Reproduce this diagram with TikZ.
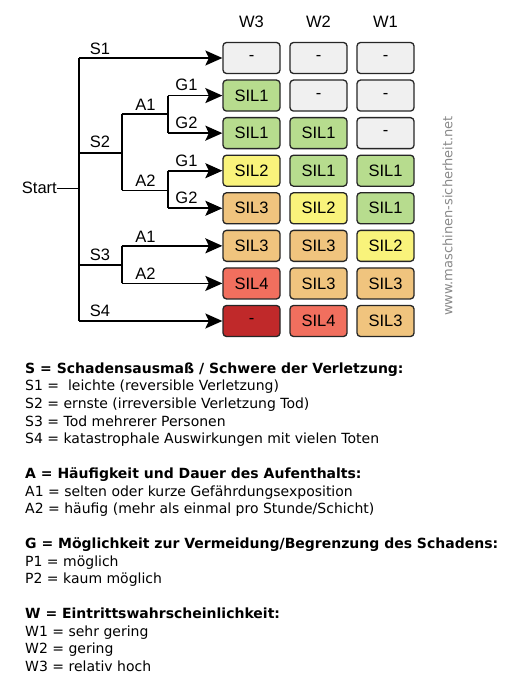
\documentclass[tikz,border=0pt]{standalone}
\usepackage{fontspec}
\setmainfont{Liberation Sans}
\newfontfamily\legfont{DejaVu Sans}
\usetikzlibrary{arrows.meta}
\definecolor{cgray}{HTML}{F0F0F0}
\definecolor{cgreen}{HTML}{B7DC8E}
\definecolor{cyellow}{HTML}{F9F37B}
\definecolor{corange}{HTML}{F0C47E}
\definecolor{cred}{HTML}{F16F5E}
\definecolor{cdred}{HTML}{C0292A}
\definecolor{wmgray}{HTML}{8A8A8A}
\tikzset{
  cell/.style={draw=black!85, line width=1.3pt, rounded corners=3.5pt, minimum width=57pt, minimum height=31pt, inner sep=0pt, font=\fontsize{16.5}{19}\selectfont},
  tree/.style={line width=1.6pt, draw=black},
  arr/.style={tree, -{Stealth[length=17pt 0, width=15pt 0, inset=3.5pt 0]}},
  lab/.style={anchor=base, inner sep=0pt, font=\fontsize{16.5}{19}\selectfont},
  hdr/.style={inner sep=0pt, font=\fontsize{16.5}{19}\selectfont},
  leg/.style={anchor=base west, inner sep=0pt, font=\legfont\fontsize{14}{16}\selectfont},
  legb/.style={leg, font=\legfont\bfseries\fontsize{14}{16}\selectfont}
}
\begin{document}
\begin{tikzpicture}[x=1pt, y=-1pt]
\useasboundingbox[fill=white] (0,0) rectangle (504,685);
% headers
\node[hdr] (h3) at (251.5,22) {W3};
\node[hdr] (h2) at (318.5,22) {W2};
\node[hdr] (h1) at (385.5,22) {W1};
% cells
\foreach \r/\y/\ca/\ta/\cb/\tb/\cc/\tc in {
  1/58/cgray/-/cgray/-/cgray/-,
  2/95.57/cgreen/SIL1/cgray/-/cgray/-,
  3/133.14/cgreen/SIL1/cgreen/SIL1/cgray/-,
  4/170.71/cyellow/SIL2/cgreen/SIL1/cgreen/SIL1,
  5/208.28/corange/SIL3/cyellow/SIL2/cgreen/SIL1,
  6/245.85/corange/SIL3/corange/SIL3/cyellow/SIL2,
  7/283.42/cred/SIL4/corange/SIL3/corange/SIL3,
  8/321/cdred/-/cred/SIL4/corange/SIL3}{
  \node[cell, fill=\ca] (b\r a) at (251.5,\y) {\ta};
  \node[cell, fill=\cb] (b\r b) at (318.5,\y) {\tb};
  \node[cell, fill=\cc] (b\r c) at (385.5,\y) {\tc};
}
% watermark
\node[rotate=90, text=wmgray, inner sep=0pt, font=\legfont\fontsize{13}{15}\selectfont] (wm) at (447.5,216) {www.maschinen-sicherheit.net};
% tree
\node[anchor=east, inner sep=0pt, font=\fontsize{16.5}{19}\selectfont] (start) at (57,188.3) {Start};
\coordinate (tr) at (79,188.3);
\coordinate (t1) at (79,58);
\coordinate (t8) at (79,321);
\coordinate (s2) at (79,152.7);
\coordinate (s3) at (79,264.7);
\coordinate (a2s) at (121.7,152.7);
\coordinate (a2t) at (121.7,113.7);
\coordinate (a2b) at (121.7,190.3);
\coordinate (a3t) at (121.7,245.85);
\coordinate (a3m) at (121.7,264.7);
\coordinate (a3b) at (121.7,283.42);
\coordinate (g1m) at (167.7,113.7);
\coordinate (g1t) at (167.7,95.57);
\coordinate (g1b) at (167.7,133.14);
\coordinate (g2m) at (167.7,190.3);
\coordinate (g2t) at (167.7,170.71);
\coordinate (g2b) at (167.7,208.28);
\draw[tree] (start.east) -- (tr);
\draw[tree] (t1) -- (t8);
\draw[tree] (s2) -- (a2s);
\draw[tree] (a2t) -- (a2b);
\draw[tree] (a2t) -- (g1m);
\draw[tree] (a2b) -- (g2m);
\draw[tree] (g1t) -- (g1b);
\draw[tree] (g2t) -- (g2b);
\draw[tree] (s3) -- (a3m);
\draw[tree] (a3t) -- (a3b);
\draw[arr] (t1) -- (b1a.west);
\draw[arr] (g1t) -- (b2a.west);
\draw[arr] (g1b) -- (b3a.west);
\draw[arr] (g2t) -- (b4a.west);
\draw[arr] (g2b) -- (b5a.west);
\draw[arr] (a3t) -- (b6a.west);
\draw[arr] (a3b) -- (b7a.west);
\draw[arr] (t8) -- (b8a.west);
% labels
\node[lab] (ls1) at (100,54.5) {S1};
\node[lab] (ls2) at (100,147.5) {S2};
\node[lab] (ls3) at (100,260) {S3};
\node[lab] (ls4) at (100,316.5) {S4};
\node[lab] (la1) at (145.5,110) {A1};
\node[lab] (la2) at (145.5,186) {A2};
\node[lab] (la3) at (145.5,242) {A1};
\node[lab] (la4) at (145.5,279) {A2};
\node[lab] (lg1) at (186.5,90) {G1};
\node[lab] (lg2) at (186.5,128) {G2};
\node[lab] (lg3) at (186.5,166) {G1};
\node[lab] (lg4) at (186.5,203.5) {G2};
% legend
\node[legb] (l1) at (25,373.3) {S = Schadensausmaß / Schwere der Verletzung:};
\node[leg] (l2) at (25,390.7) {S1 = \ leichte (reversible Verletzung)};
\node[leg] (l3) at (25,408.3) {S2 = ernste (irreversible Verletzung Tod)};
\node[leg] (l4) at (25,426) {S3 = Tod mehrerer Personen};
\node[leg] (l5) at (25,443.7) {S4 = katastrophale Auswirkungen mit vielen Toten};
\node[legb] (l6) at (25,478.7) {A = Häufigkeit und Dauer des Aufenthalts:};
\node[leg] (l7) at (25,496) {A1 = selten oder kurze Gefährdungsexposition};
\node[leg] (l8) at (25,513.7) {A2 = häufig (mehr als einmal pro Stunde/Schicht)};
\node[legb] (l9) at (25,548.7) {G = Möglichkeit zur Vermeidung/Begrenzung des Schadens:};
\node[leg] (l10) at (25,566) {P1 = möglich};
\node[leg] (l11) at (25,583.7) {P2 = kaum möglich};
\node[legb] (l12) at (25,618.7) {W = Eintrittswahrscheinlichkeit:};
\node[leg] (l13) at (25,636) {W1 = sehr gering};
\node[leg] (l14) at (25,653.7) {W2 = gering};
\node[leg] (l15) at (25,671) {W3 = relativ hoch};
\end{tikzpicture}
\end{document}
